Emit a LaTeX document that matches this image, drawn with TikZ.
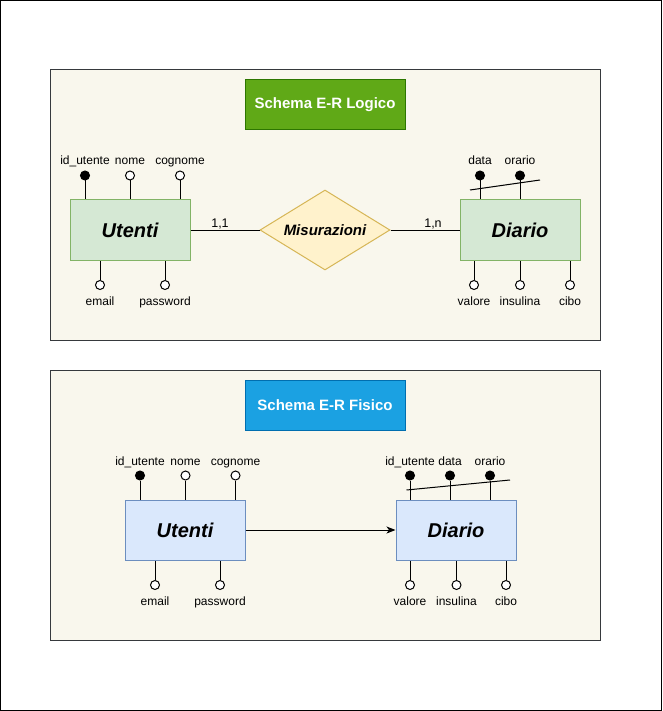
\documentclass[tikz,border=0pt]{standalone}
\usepackage{fontspec}
\setmainfont{Liberation Sans}
\usetikzlibrary{shapes.geometric,arrows.meta}

\definecolor{panelfill}{HTML}{F9F7ED}
\definecolor{panelline}{HTML}{36393D}
\definecolor{greentitle}{HTML}{60A917}
\definecolor{greentitleline}{HTML}{2D7600}
\definecolor{bluetitle}{HTML}{1BA1E2}
\definecolor{bluetitleline}{HTML}{006EAF}
\definecolor{greenfill}{HTML}{D5E8D4}
\definecolor{greenline}{HTML}{82B366}
\definecolor{bluefill}{HTML}{DAE8FC}
\definecolor{blueline}{HTML}{6C8EBF}
\definecolor{relfill}{HTML}{FFF2CC}
\definecolor{relline}{HTML}{D6B656}

\begin{document}
\begin{tikzpicture}[x=1pt,y=-1pt,line width=1pt]
            \tikzset{panel/.style = {draw=panelline, fill=panelfill, minimum width=550pt, minimum height=270pt, inner sep=0pt}}
            \tikzset{titlebox/.style = {minimum width=160pt, minimum height=50pt, text=white, font=\fontsize{15}{18}\selectfont\bfseries}}
            \tikzset{entity/.style = {draw, minimum width=120pt, minimum height=60pt, font=\fontsize{20}{24}\selectfont\bfseries\itshape}}
            \tikzset{relation/.style = {shape=diamond, draw=relline, fill=relfill, minimum width=130pt, minimum height=80pt, aspect=1.625, inner sep=0pt, font=\fontsize{15}{18}\selectfont\bfseries\itshape}}
            \tikzset{attr/.style = {shape=circle, draw, fill=white, minimum size=9pt, inner sep=0pt}}
            \tikzset{keyattr/.style = {attr, fill=black}}
            \tikzset{attrlabel/.style = {anchor=base, inner sep=0pt, font=\fontsize{12}{14}\selectfont}}
            \tikzset{card/.style = {anchor=base, inner sep=0pt, font=\fontsize{12.5}{15}\selectfont}}
            \useasboundingbox (0,0) rectangle (662,711);
            \draw[black] (0.5,0.5) rectangle (661.5,710.5);
            % panels
            \node[panel] (logico) at (325,205) {};
            \node[panel] (fisico) at (325,505) {};
            \node[titlebox, fill=greentitle, draw=greentitleline] (tlogico) at (325,105) {Schema E-R Logico};
            \node[titlebox, fill=bluetitle, draw=bluetitleline] (tfisico) at (325,405) {Schema E-R Fisico};
            % schema logico
            \node[entity, draw=greenline, fill=greenfill] (utenti) at (130,230) {Utenti};
            \node[entity, draw=greenline, fill=greenfill] (diario) at (520,230) {Diario};
            \node[relation] (misura) at (325,230) {Misurazioni};
            \draw (utenti) -- (misura);
            \draw (misura) -- (diario);
            \node[card] (cutenti) at (220,227) {1,1};
            \node[card] (cdiario) at (433,227) {1,n};
            % attributi utenti
            \node[keyattr] (uid) at (85,175.5) {};
            \node[attr] (unome) at (130,175.5) {};
            \node[attr] (ucognome) at (180,175.5) {};
            \node[attr] (uemail) at (100,285) {};
            \node[attr] (upass) at (165,285) {};
            \node[attrlabel] (luid) at (85,165) {id\_utente};
            \node[attrlabel] (lunome) at (130,165) {nome};
            \node[attrlabel] (lucognome) at (180,165) {cognome};
            \node[attrlabel] (luemail) at (100,305) {email};
            \node[attrlabel] (lupass) at (165,305) {password};
            \draw (uid) -- (uid |- utenti.north);
            \draw (unome) -- (unome |- utenti.north);
            \draw (ucognome) -- (ucognome |- utenti.north);
            \draw (uemail) -- (uemail |- utenti.south);
            \draw (upass) -- (upass |- utenti.south);
            % attributi diario
            \node[keyattr] (ddata) at (480,175.5) {};
            \node[keyattr] (dorario) at (520,175.5) {};
            \node[attr] (dvalore) at (474,285) {};
            \node[attr] (dinsulina) at (520,285) {};
            \node[attr] (dcibo) at (570,285) {};
            \node[attrlabel] (lddata) at (480,165) {data};
            \node[attrlabel] (ldorario) at (520,165) {orario};
            \node[attrlabel] (ldvalore) at (474,305) {valore};
            \node[attrlabel] (ldinsulina) at (520,305) {insulina};
            \node[attrlabel] (ldcibo) at (570,305) {cibo};
            \draw (ddata) -- (ddata |- diario.north);
            \draw (dorario) -- (dorario |- diario.north);
            \draw (dvalore) -- (dvalore |- diario.south);
            \draw (dinsulina) -- (dinsulina |- diario.south);
            \draw (dcibo) -- (dcibo |- diario.south);
            \coordinate (dkeya) at (470,190);
            \coordinate (dkeyb) at (540,180);
            \draw (dkeya) -- (dkeyb);
            % schema fisico
            \node[entity, draw=blueline, fill=bluefill] (utentif) at (185,530) {Utenti};
            \node[entity, draw=blueline, fill=bluefill] (diariof) at (456,530) {Diario};
            \draw[-{Stealth[length=9pt,width=7pt,inset=2.5pt]}] (utentif) -- (diariof);
            % attributi utenti
            \node[keyattr] (fuid) at (140,475.5) {};
            \node[attr] (funome) at (185.5,475.5) {};
            \node[attr] (fucognome) at (235.5,475.5) {};
            \node[attr] (fuemail) at (155,585) {};
            \node[attr] (fupass) at (220,585) {};
            \node[attrlabel] (lfuid) at (140,465) {id\_utente};
            \node[attrlabel] (lfunome) at (185.5,465) {nome};
            \node[attrlabel] (lfucognome) at (235.5,465) {cognome};
            \node[attrlabel] (lfuemail) at (155,605) {email};
            \node[attrlabel] (lfupass) at (220,605) {password};
            \draw (fuid) -- (fuid |- utentif.north);
            \draw (funome) -- (funome |- utentif.north);
            \draw (fucognome) -- (fucognome |- utentif.north);
            \draw (fuemail) -- (fuemail |- utentif.south);
            \draw (fupass) -- (fupass |- utentif.south);
            % attributi diario
            \node[keyattr] (fdid) at (410,475.5) {};
            \node[keyattr] (fddata) at (450,475.5) {};
            \node[keyattr] (fdorario) at (490,475.5) {};
            \node[attr] (fdvalore) at (410,585) {};
            \node[attr] (fdinsulina) at (456.5,585) {};
            \node[attr] (fdcibo) at (506,585) {};
            \node[attrlabel] (lfdid) at (410,465) {id\_utente};
            \node[attrlabel] (lfddata) at (450,465) {data};
            \node[attrlabel] (lfdorario) at (490,465) {orario};
            \node[attrlabel] (lfdvalore) at (410,605) {valore};
            \node[attrlabel] (lfdinsulina) at (456.5,605) {insulina};
            \node[attrlabel] (lfdcibo) at (506,605) {cibo};
            \draw (fdid) -- (fdid |- diariof.north);
            \draw (fddata) -- (fddata |- diariof.north);
            \draw (fdorario) -- (fdorario |- diariof.north);
            \draw (fdvalore) -- (fdvalore |- diariof.south);
            \draw (fdinsulina) -- (fdinsulina |- diariof.south);
            \draw (fdcibo) -- (fdcibo |- diariof.south);
            \coordinate (fdkeya) at (406.5,490);
            \coordinate (fdkeyb) at (510,480);
            \draw (fdkeya) -- (fdkeyb);
        \end{tikzpicture}
\end{document}
